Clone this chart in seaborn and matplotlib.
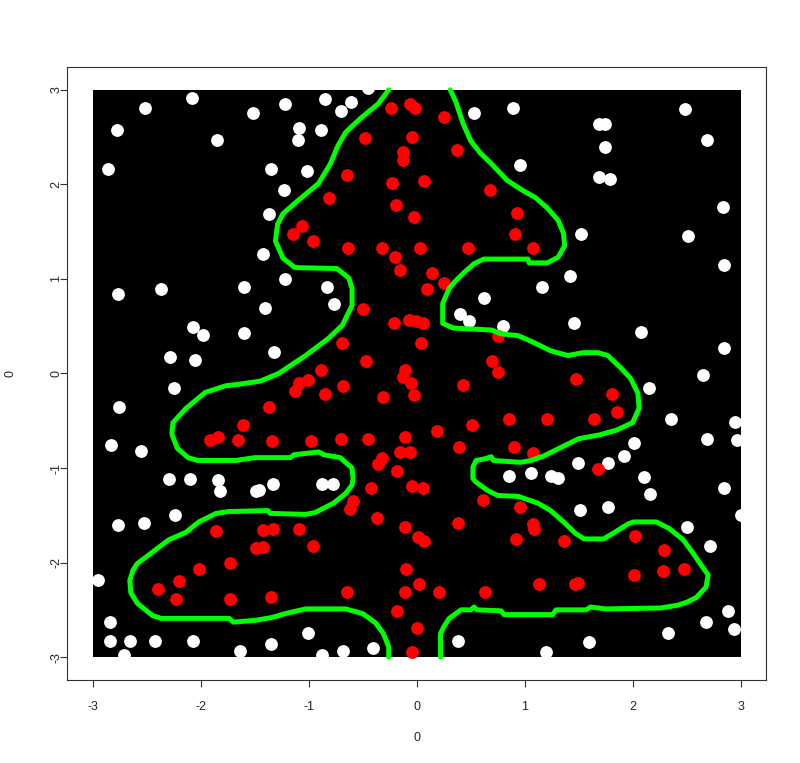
import matplotlib
matplotlib.use("Agg")
import matplotlib.pyplot as plt
import seaborn as sns
import pandas as pd

# snow (white) points
white_x = [-2.78, -2.08, -2.52, -1.85, -2.86, -1.52, -1.22, -0.85, -0.61, -0.70, -0.45, -1.09,
           -0.89, -1.10, -1.35, -1.02, -1.23, -1.37, -1.43, -1.22, 0.53, 0.89, 0.96, 1.52, 1.42,
           2.49, 1.69, 1.74, 1.74, 1.69, 1.79, 2.69, 2.84, 2.51, 2.85, -2.77, -2.37, -1.60, -2.07,
           -1.98, -1.60, -2.29, -2.06, -2.25, -2.76, -2.83, -2.56, -2.30, -2.10, -0.83, -0.77, -1.41,
           -1.32, 1.16, 0.62, 0.40, 0.48, 0.80, 1.46, 0.85, 1.06, 1.24, 1.31, 1.49, 1.77, 1.92, 2.01,
           2.11, 2.16, 1.51, 1.77, 2.08, 2.85, 2.65, 2.15, 2.36, 2.95, 2.69, 2.97, 2.85, 3.00, 2.50,
           2.72, 2.88, 2.68, 2.94, 2.33, 1.60, -1.84, -1.82, -1.49, -2.24, -2.77, -2.53, -2.95, -2.84,
           -2.84, -2.66, -2.43, -2.07, -2.71, -1.64, -1.46, -1.33, -0.88, -0.78, -1.01, -1.35, -0.88,
           -0.68, -0.41, 0.38, 1.20]
white_y = [2.58, 2.91, 2.81, 2.47, 2.16, 2.76, 2.85, 2.90, 2.87, 2.78, 3.02, 2.60,
           2.58, 2.47, 2.16, 2.14, 1.94, 1.69, 1.26, 1.00, 2.76, 2.81, 2.20, 1.48, 1.03,
           2.80, 2.64, 2.64, 2.40, 2.08, 2.06, 2.47, 1.76, 1.45, 1.15, 0.84, 0.89, 0.92, 0.49,
           0.41, 0.43, 0.17, 0.14, -0.15, -0.35, -0.76, -0.82, -1.12, -1.12, 0.91, 0.73, 0.69,
           0.23, 0.91, 0.80, 0.63, 0.55, 0.50, 0.53, -1.08, -1.05, -1.08, -1.11, -0.95, -0.95, -0.87, -0.73,
           -1.10, -1.27, -1.44, -1.41, 0.44, 0.27, -0.02, -0.15, -0.48, -0.51, -0.69, -0.70, -1.21, -1.50, -1.62,
           -1.82, -2.51, -2.63, -2.70, -2.74, -2.84, -1.13, -1.24, -1.24, -1.50, -1.60, -1.58, -2.18, -2.63,
           -2.83, -2.83, -2.83, -2.83, -2.98, -2.93, -1.23, -1.17, -1.17, -1.17, -2.74, -2.86, -2.98,
           -2.93, -2.90, -2.83, -2.95]

# ornament (red) points
red_x = [-0.24, -0.06, -0.02, -0.04, -0.48, -0.13, -0.13, -0.65, -0.23, -0.19, -0.03, -0.81,
         -1.06, -1.15, -0.96, -0.64, -0.32, -0.20, -0.16, 0.03, 0.25, 0.37, 0.07, 0.68, 0.93, 0.91,
         1.08, 0.47, 0.14, -1.61, -1.84, -1.92, -1.66, -0.50, -0.21, -0.07, -0.01, 0.06, -0.69,
         -0.47, -0.89, -1.01, -1.09, -1.13, -0.68, -0.85, -0.11, -0.13, -0.05, -0.31, -0.03, -1.37,
         -1.34, -0.98, -0.70, -0.45, -0.11, -0.16, -0.06, -0.32, -0.36, -0.18, 0.09, 0.25, 0.04,
         0.75, 0.70, 0.75, 0.43, 1.48, 0.85, 1.21, 0.51, 0.19, 0.39, 0.90, 1.08, 1.68, 1.81, 1.86,
         1.64, 2.02, 2.29, 2.48, 2.28, 2.01, 1.49, -1.86, -1.49, -1.73, -2.02, -2.20, -2.40, -2.23,
         -1.73, -0.59, -0.62, -0.42, -0.04, -0.37, -0.11, -1.43, -1.33, -1.09, -1.43, -0.96, -0.10,
         -1.35, -0.65, -0.11, -0.18, 0.06, 0.61, 0.96, 1.08, 1.09, 1.36, 0.38, 0.01, 0.07, 0.92,
         0.02, 0.21, 0.63, 1.13, 1.47, 0.00, -0.04]
red_y = [2.81, 2.85, 2.81, 2.50, 2.49, 2.34, 2.26, 2.10, 2.01, 1.78, 1.65, 1.86,
         1.56, 1.47, 1.40, 1.33, 1.33, 1.23, 1.09, 1.33, 2.71, 2.36, 2.04, 1.94, 1.70, 1.48,
         1.33, 1.33, 1.06, -0.54, -0.67, -0.70, -0.70, 0.68, 0.53, 0.57, 0.56, 0.53, 0.32,
         0.13, 0.04, -0.07, -0.10, -0.19, -0.13, -0.22, 0.04, -0.04, -0.10, -0.25, -0.23, -0.35,
         -0.71, -0.71, -0.69, -0.69, -0.67, -0.83, -0.83, -0.89, -0.96, -1.03, 0.89, 0.96, 0.32,
         0.40, 0.13, 0.02, -0.12, -0.06, -0.48, -0.48, -0.54, -0.61, -0.78, -0.78, -0.84, -1.01, -0.22, -0.41,
         -0.48, -1.72, -1.87, -2.07, -2.09, -2.13, -2.22, -1.67, -1.85, -2.00, -2.07, -2.19, -2.28, -2.39,
         -2.39, -1.35, -1.43, -1.21, -1.19, -1.53, -1.62, -1.66, -1.64, -1.64, -1.84, -1.82, -2.07,
         -2.36, -2.31, -2.31, -2.51, -1.21, -1.34, -1.41, -1.59, -1.65, -1.77, -1.58, -1.73, -1.77, -1.75,
         -2.23, -2.31, -2.31, -2.23, -2.23, -2.69, -2.95]

# tree outline (contour), left and right branches
left_x = [-0.26, -0.36, -0.52, -0.66, -0.73, -0.80, -0.91, -1.10, -1.24, -1.29, -1.31, -1.24, -1.13,
          -0.74, -0.63, -0.60, -0.60, -0.69, -0.82, -1.03, -1.28, -1.45, -1.62, -1.77, -1.96, -2.14,
          -2.26, -2.27, -2.22, -2.12, -2.03, -1.68, -1.50, -1.17, -1.14, -0.91, -0.86, -0.71, -0.60,
          -0.59, -0.60, -0.66, -0.77, -0.94, -1.03, -1.36, -1.38, -1.74, -1.86, -2.02, -2.14, -2.30,
          -2.45, -2.59, -2.63, -2.66, -2.65, -2.59, -2.45, -2.37, -1.74, -1.70, -1.49, -1.34, -1.22,
          -1.03, -0.66, -0.50, -0.38, -0.31, -0.26, -0.26]
left_y = [3.00, 2.85, 2.70, 2.55, 2.41, 2.22, 2.01, 1.83, 1.69, 1.58, 1.40, 1.22, 1.12,
          1.11, 1.01, 0.90, 0.72, 0.51, 0.37, 0.19, 0.00, -0.08, -0.11, -0.13, -0.20, -0.37,
          -0.52, -0.64, -0.79, -0.89, -0.92, -0.92, -0.89, -0.89, -0.86, -0.83, -0.86, -0.89, -1.00,
          -1.11, -1.18, -1.27, -1.37, -1.47, -1.49, -1.48, -1.45, -1.46, -1.48, -1.57, -1.68, -1.76,
          -1.89, -2.01, -2.08, -2.19, -2.32, -2.43, -2.56, -2.59, -2.59, -2.63, -2.61, -2.58, -2.54,
          -2.49, -2.49, -2.54, -2.64, -2.75, -2.89, -3.00]
right_x = [0.31, 0.36, 0.43, 0.50, 0.59, 0.69, 0.84, 0.99, 1.10, 1.21, 1.31, 1.36, 1.37, 1.31,
           1.21, 1.04, 1.03, 0.62, 0.53, 0.44, 0.36, 0.30, 0.24, 0.24, 0.34, 0.69, 0.78, 0.94, 1.08,
           1.24, 1.40, 1.54, 1.68, 1.77, 1.89, 1.98, 2.05, 2.06, 2.00, 1.85, 1.69, 1.50, 1.34, 1.18,
           1.06, 0.96, 0.71, 0.69, 0.64, 0.55, 0.52, 0.52, 0.55, 0.66, 0.75, 0.94, 1.12, 1.24, 1.36,
           1.47, 1.55, 1.73, 1.82, 1.96, 2.01, 2.22, 2.34, 2.47, 2.56, 2.65, 2.70, 2.68, 2.59, 2.50,
           2.42, 2.26, 1.75, 1.61, 1.57, 1.29, 1.26, 0.81, 0.78, 0.56, 0.53, 0.50, 0.41, 0.30, 0.25,
           0.22, 0.22]
right_y = [3.00, 2.88, 2.64, 2.46, 2.33, 2.22, 2.04, 1.93, 1.86, 1.75, 1.62, 1.48, 1.35, 1.23,
           1.17, 1.17, 1.21, 1.21, 1.16, 1.07, 0.98, 0.90, 0.74, 0.53, 0.48, 0.46, 0.42, 0.40, 0.33,
           0.24, 0.19, 0.22, 0.22, 0.19, 0.06, -0.05, -0.21, -0.37, -0.52, -0.60, -0.65, -0.69, -0.78, -0.87,
           -0.92, -0.94, -0.92, -0.88, -0.90, -0.92, -0.99, -1.11, -1.15, -1.24, -1.29, -1.30, -1.37, -1.45, -1.57,
           -1.69, -1.75, -1.75, -1.69, -1.59, -1.57, -1.57, -1.64, -1.76, -1.90, -2.05, -2.13, -2.26, -2.37, -2.42,
           -2.45, -2.48, -2.49, -2.47, -2.50, -2.50, -2.55, -2.55, -2.51, -2.50, -2.47, -2.50, -2.50, -2.59, -2.68,
           -2.75, -3.00]

box_x = [-3, 3]
box_lo = [-3, -3]
box_hi = [3, 3]
ticks = [-3, -2, -1, 0, 1, 2, 3]

sns.set_style("ticks")
plt.rcParams["font.family"] = ["Liberation Sans", "DejaVu Sans"]

fig = plt.figure(figsize=(8.0, 7.63), dpi=100)
ax = fig.add_axes([0.084, 0.109, 0.874, 0.803])

ax.fill_between(box_x, box_lo, box_hi, color="black", linewidth=0, zorder=1)

white_df = pd.DataFrame({"x": white_x, "y": white_y})
red_df = pd.DataFrame({"x": red_x, "y": red_y})
sns.scatterplot(data=white_df, x="x", y="y", color="white", s=85, linewidth=0, ax=ax, zorder=2)
sns.scatterplot(data=red_df, x="x", y="y", color="red", s=85, linewidth=0, ax=ax, zorder=3)

left_df = pd.DataFrame({"x": left_x, "y": left_y})
right_df = pd.DataFrame({"x": right_x, "y": right_y})
for d in (left_df, right_df):
    sns.lineplot(data=d, x="x", y="y", sort=False, estimator=None, color="#00ff00",
                 linewidth=3.6, ax=ax, zorder=4)

ax.set_xlim(-3.24, 3.24)
ax.set_ylim(-3.24, 3.24)
ax.set_xticks(ticks)
ax.set_yticks(ticks)
ax.set_xticklabels([str(t) for t in ticks], fontsize=9)
ax.set_yticklabels([str(t) for t in ticks], fontsize=9, rotation=90, va="center")
ax.tick_params(direction="out", length=5, width=0.8, color="#333333")
ax.tick_params(axis="x", pad=10)
ax.tick_params(axis="y", pad=-1.5)
for sp in ax.spines.values():
    sp.set_visible(True)
    sp.set_linewidth(0.8)
    sp.set_color("#333333")
ax.set_xlabel("0", fontsize=9)
ax.set_ylabel("0", fontsize=9)
ax.xaxis.set_label_coords(0.5, -0.085)
ax.yaxis.set_label_coords(-0.072, 0.5)

fig.savefig("out.png", dpi=100)
